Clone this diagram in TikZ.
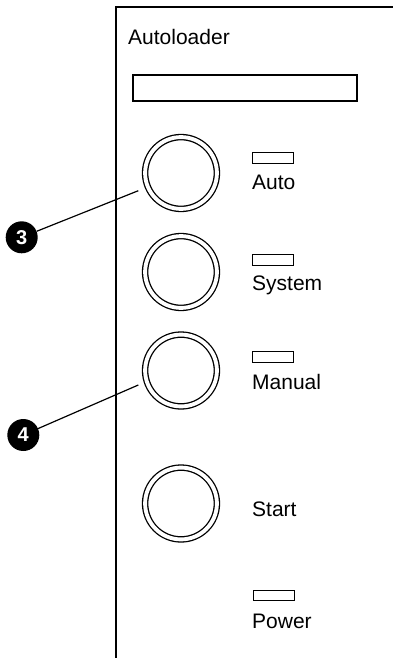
\documentclass[tikz,border=0pt]{standalone}
\usepackage{fontspec}
\setmainfont{Liberation Sans}
\begin{document}
\begin{tikzpicture}[x=1pt,y=-1pt,
  panel/.style={line width=1.5pt},
  button/.style={circle,draw,double,double distance=3.9pt,line width=1.3pt,minimum size=71.8pt,inner sep=0pt},
  led/.style={rectangle,draw,line width=1pt,minimum width=41pt,minimum height=10.5pt,inner sep=0pt},
  lbl/.style={anchor=base west,inner sep=0pt,font=\fontsize{21}{25}\selectfont},
  callout/.style={circle,fill=black,minimum size=32pt,inner sep=0pt,text=white,font=\fontsize{20}{24}\selectfont\bfseries},
  leader/.style={line width=1.2pt}]
\fill[white] (0,0) rectangle (393,658);
\useasboundingbox (0,0) rectangle (393,658);
\draw[panel] (116,658) -- (116,7) -- (393,7);
\node[lbl] (title) at (128,44.5) {Autoloader};
\node[rectangle,draw,line width=1.3pt,minimum width=224pt,minimum height=26pt,inner sep=0pt] (display) at (245,88) {};
% buttons
\node[button] (bauto) at (181,173) {};
\node[button] (bsys) at (181,272) {};
\node[button] (bman) at (181,370.5) {};
\node[button] (bstart) at (181,503.5) {};
% LEDs
\node[led] (lauto) at (272.5,158) {};
\node[led] (lsys) at (272.5,260) {};
\node[led] (lman) at (272.5,357) {};
\node[led] (lpow) at (273.5,595.3) {};
% labels
\node[lbl] (tauto) at (252,189.3) {Auto};
\node[lbl] (tsys) at (252,290.7) {System};
\node[lbl] (tman) at (252,389.3) {Manual};
\node[lbl] (tstart) at (252,516.7) {Start};
\node[lbl] (tpow) at (252,628.3) {Power};
% callouts
\node[callout] (c3) at (21.7,237.3) {3};
\node[callout] (c4) at (23.3,435) {4};
\coordinate (p3) at (138.3,190.7);
\coordinate (p4) at (138.3,385);
\draw[leader] (c3) -- (p3);
\draw[leader] (c4) -- (p4);
\end{tikzpicture}
\end{document}
